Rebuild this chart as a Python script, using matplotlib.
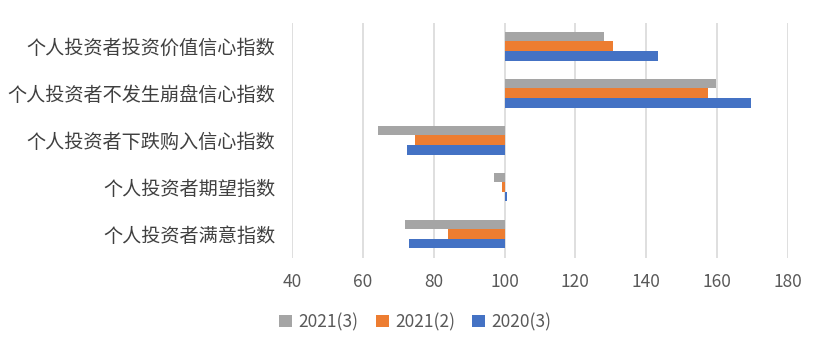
import matplotlib
matplotlib.use("Agg")
import matplotlib.pyplot as plt
import numpy as np

plt.rcParams['font.family'] = ['Noto Sans CJK SC', 'DejaVu Sans']

categories = ['个人投资者投资价值信心指数', '个人投资者不发生崩盘信心指数',
              '个人投资者下跌购入信心指数', '个人投资者期望指数', '个人投资者满意指数']
s2021_3 = [128.1, 159.6, 64.4, 97.1, 72.0]
s2021_2 = [130.6, 157.3, 74.8, 99.4, 84.1]
s2020_3 = [143.2, 169.5, 72.6, 100.8, 73.1]
series_names = ['2021(3)', '2021(2)', '2020(3)']
colors = ['#A5A5A5', '#ED7D31', '#4472C4']
base = 100

fig = plt.figure(figsize=(8.26, 3.53), dpi=100)
ax = fig.add_axes([0.3535, 0.2705, 0.6005, 0.6655])

y = np.arange(len(categories))
h = 0.205
for i, (vals, name, c) in enumerate(zip([s2021_3, s2021_2, s2020_3], series_names, colors)):
    vals = np.array(vals)
    ax.barh(y + (i - 1) * h, vals - base, left=base, height=h, color=c, label=name, zorder=3)

ax.set_ylim(len(categories) - 0.5, -0.5)
ax.set_xlim(40, 180)
ax.set_xticks(np.arange(40, 181, 20))
ax.set_yticks(y)
ax.set_yticklabels(categories, fontsize=13.8, color='#404040')
ax.tick_params(axis='x', labelsize=12.5, colors='#595959', length=0, pad=11)
ax.tick_params(axis='y', length=0, pad=12)
ax.grid(axis='x', color='#D9D9D9', linewidth=1.2, zorder=0)
for s in ax.spines.values():
    s.set_visible(False)

fig.legend(loc='center', bbox_to_anchor=(0.503, 0.088), ncol=3, frameon=False,
           fontsize=12.5, handlelength=0.75, handleheight=0.75, handletextpad=0.35,
           columnspacing=1.0, labelcolor='#595959')

fig.savefig('out.png', dpi=100)
